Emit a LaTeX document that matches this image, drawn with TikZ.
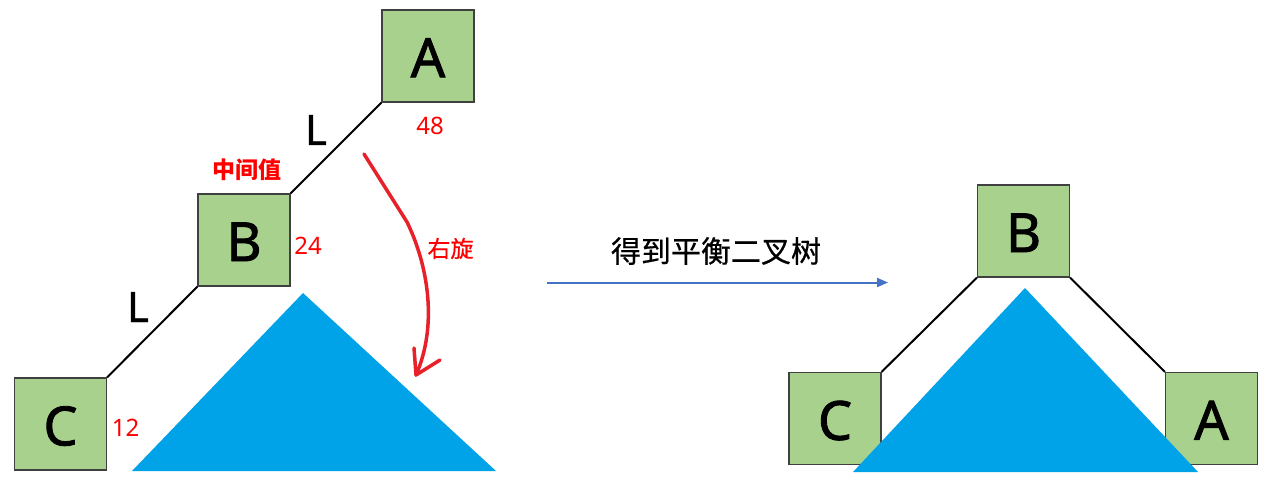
\documentclass[tikz,border=0pt]{standalone}
\usepackage{fontspec}
\usetikzlibrary{arrows.meta}
\setmainfont{Noto Sans}
\newfontfamily\cjk{Noto Sans CJK SC}
\newfontfamily\cjkmed{Noto Sans CJK SC}[FakeBold=0.6]
\newfontfamily\letfont{Noto Sans}[FakeBold=1.6]
\newfontfamily\lfont{Noto Sans}[FakeBold=0.8]
\definecolor{boxgreen}{HTML}{A9D18E}
\definecolor{boxline}{HTML}{404040}
\definecolor{triblue}{HTML}{00A2E8}
\definecolor{arrred}{HTML}{E8202A}
\definecolor{arrblue}{HTML}{4472C4}
\begin{document}
\begin{tikzpicture}[x=1pt,y=-1pt,
  treebox/.style={draw=boxline,line width=1.2pt,fill=boxgreen,minimum size=92pt,inner sep=0pt,
     font=\letfont\fontsize{54}{54}\selectfont,text depth=0pt},
  edge/.style={draw=black,line width=2pt},
  num/.style={text=red,font=\fontsize{24}{24}\selectfont,inner sep=0pt},
  lab/.style={font=\lfont\fontsize{42}{42}\selectfont,inner sep=0pt}]
\useasboundingbox[fill=white] (0,0) rectangle (1271,485);
% left tree
\node[treebox] (A1) at (428,56) {\raisebox{-3.5pt}{A}};
\node[treebox] (B1) at (244,240) {\raisebox{-3.5pt}{B}};
\node[treebox] (C1) at (60.5,424) {\raisebox{-3.5pt}{C}};
\draw[edge] (A1.south west) -- (B1.north east);
\draw[edge] (B1.south west) -- (C1.north east);
\fill[triblue] (303,293) -- (496,471) -- (132,471) -- cycle;
\node[lab] (L1) at (316,130) {L};
\node[lab] (L2) at (138,307) {L};
\node[num] (n48) at (430,125.5) {48};
\node[num] (n24) at (308,245.5) {24};
\node[num] (n12) at (125.5,428) {12};
\node[inner sep=0pt,text=red,font=\cjk\bfseries\fontsize{23}{23}\selectfont] (mid) at (246.5,170) {中间值};
\node[inner sep=0pt,text=red,font=\cjkmed\fontsize{23}{23}\selectfont] (rot) at (450.5,248.5) {右旋};
\coordinate (r0) at (364,154);
\coordinate (r1) at (407,222);
\coordinate (rt) at (416,375);
\coordinate (rb1) at (414,348);
\coordinate (rb2) at (440,360);
\draw[arrred,line width=3.5pt,line cap=round,line join=round]
  (r0) .. controls (385,188) .. (r1) .. controls (428,265) and (438,325) .. (rt);
\draw[arrred,line width=3.5pt,line cap=round,line join=round] (rb1) -- (rt) -- (rb2);
% middle
\node[inner sep=0pt,font=\cjkmed\fontsize{30}{30}\selectfont] (title) at (716,251) {得到平衡二叉树};
\coordinate (m0) at (547,282.5);
\coordinate (m1) at (888,282.5);
\draw[arrblue,line width=2pt,-{Triangle[length=11pt,width=9pt]}] (m0) -- (m1);
% right tree
\node[treebox] (B2) at (1023.5,231) {\raisebox{-3.5pt}{B}};
\node[treebox] (C2) at (835,418.5) {\raisebox{-3.5pt}{C}};
\node[treebox] (A2) at (1211.5,418.5) {\raisebox{-3.5pt}{A}};
\draw[edge] (B2.south west) -- (C2.north east);
\draw[edge] (B2.south east) -- (A2.north west);
\fill[triblue] (1025,288) -- (1198,472) -- (853,472) -- cycle;
\end{tikzpicture}
\end{document}
